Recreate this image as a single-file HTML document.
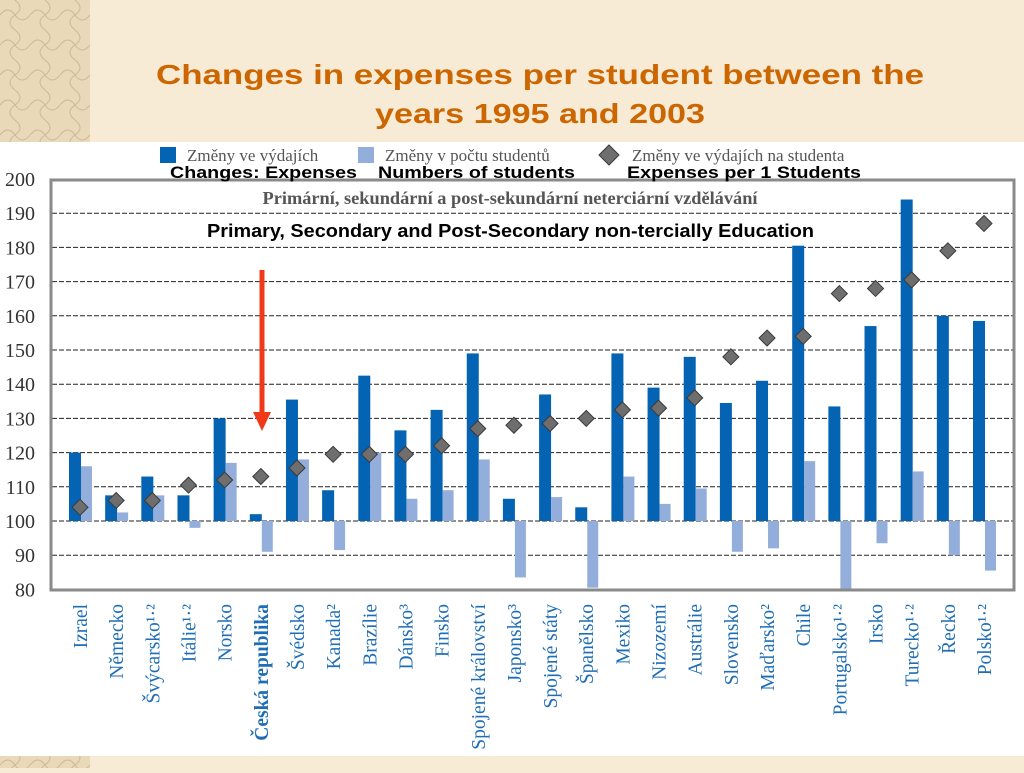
<!DOCTYPE html>
<html><head><meta charset="utf-8"><style>
body{margin:0;width:1024px;height:768px;overflow:hidden;background:#F8EBD5;font-family:"Liberation Sans",sans-serif}
</style></head><body>
<svg width="1024" height="768">
<defs><pattern id="tex" width="30" height="30" patternUnits="userSpaceOnUse"><rect width="30" height="30" fill="#E9D9B8"/><path d="M0 15 Q8 5 15 15 T30 15 M15 0 Q25 8 15 15 T15 30" stroke="#C9B89A" fill="none"/></pattern></defs>
<rect x="0" y="0" width="90" height="142" fill="url(#tex)"/>
<rect x="0" y="756" width="90" height="12" fill="url(#tex)"/>
<text x="540" y="84" text-anchor="middle" font-size="28" font-weight="bold" fill="#CC6600" textLength="768" lengthAdjust="spacingAndGlyphs">Changes in expenses per student  between  the</text>
<text x="540" y="123" text-anchor="middle" font-size="28" font-weight="bold" fill="#CC6600" textLength="330" lengthAdjust="spacingAndGlyphs">years 1995 and 2003</text>
<rect x="0" y="142" width="1024" height="614" fill="#fff"/>
<g id="chart"></g>
</svg>
<script>
const categories=["Izrael","Německo","Švýcarsko¹·²","Itálie¹·²","Norsko","Česká republika","Švédsko","Kanada²","Brazílie","Dánsko³","Finsko","Spojené království","Japonsko³","Spojené státy","Španělsko","Mexiko","Nizozemí","Austrálie","Slovensko","Maďarsko²","Chile","Portugalsko¹·²","Irsko","Turecko¹·²","Řecko","Polsko¹·²"];
const expenses=[120,107.5,113,107.5,130,102,135.5,109,142.5,126.5,132.5,149,106.5,137,104,149,139,148,134.5,141,180.5,133.5,157,194,160,158.5];
const students=[116,102.5,107.5,98,117,91,118,91.5,120,106.5,109,118,83.5,107,80.5,113,105,109.5,91,92,117.5,80,93.5,114.5,90,85.5];
const perStudent=[104,106,106,110.5,112,113,115.5,119.5,119.5,119.5,122,127,128,128.5,130,132.5,133,136,148,153.5,154,166.5,168,170.5,179,187];
const yTicks=[80,90,100,110,120,130,140,150,160,170,180,190,200];
const NS="http://www.w3.org/2000/svg";
const g=document.getElementById('chart');
function y(v){return 521-(v-100)*3.42;}
function x(i){return 80+i*36.16;}
function mk(t,a,txt){const e=document.createElementNS(NS,t);for(const k in a)e.setAttribute(k,a[k]);if(txt!==undefined)e.textContent=txt;g.appendChild(e);return e;}
let e;
yTicks.forEach(t=>{
 e=mk('text',{x:35,y:y(t)+7,'text-anchor':'end','font-family':'Liberation Serif,serif','font-size':20,fill:'#333'},t);
 
 
 if(t>80&&t<200){e=mk('line',{x1:52,x2:1013,y1:y(t),y2:y(t),stroke:'#222','stroke-width':1,'stroke-dasharray':'5,2'});
 
 }
});
categories.forEach((c,i)=>{
 const cx=x(i);
 e=mk('rect',{x:cx-11,y:Math.min(y(expenses[i]),y(100)),width:12,height:Math.abs(y(expenses[i])-y(100)),fill:'#0563B4'});
 
 
 e=mk('rect',{x:cx+1,y:Math.min(y(students[i]),y(100)),width:11,height:Math.abs(y(students[i])-y(100)),fill:'#94AEDB'});
 
 
});
categories.forEach((c,i)=>{
 const cx=x(i),cy=y(perStudent[i]);
 e=mk('path',{d:`M${cx} ${cy-8}L${cx+8} ${cy}L${cx} ${cy+8}L${cx-8} ${cy}Z`,fill:'#6E6E6E',stroke:'#3A3A3A','stroke-width':1});
 
 
 e=mk('text',{transform:`translate(${cx+7},604) rotate(-90)`,'text-anchor':'end','font-family':'Liberation Serif,serif','font-size':19.5,fill:'#1F6EB5','font-weight':i==5?'bold':'normal'},c);
 
 
});
e=mk('rect',{x:51,y:180,width:963,height:410,fill:'none',stroke:'#8A8A8A','stroke-width':3});


e=mk('text',{x:510,y:204,'text-anchor':'middle','font-family':'Liberation Serif,serif','font-size':18,'font-weight':'bold',fill:'#555',textLength:495,lengthAdjust:'spacingAndGlyphs'},'Primární, sekundární a post-sekundární neterciární vzdělávání');


e=mk('text',{x:207,y:237,'font-size':18,'font-weight':'bold',fill:'#000',textLength:607,lengthAdjust:'spacingAndGlyphs'},'Primary, Secondary and Post-Secondary non-tercially Education');


e=mk('rect',{x:160,y:147,width:16,height:16,fill:'#0563B4'});


e=mk('text',{x:187,y:161,'font-family':'Liberation Serif,serif','font-size':17,fill:'#555'},'Změny ve výdajích');


e=mk('rect',{x:358,y:147,width:16,height:16,fill:'#94AEDB'});


e=mk('text',{x:385,y:161,'font-family':'Liberation Serif,serif','font-size':17,fill:'#555'},'Změny v počtu studentů');


e=mk('path',{d:'M609 145L619 155L609 165L599 155Z',fill:'#6E6E6E',stroke:'#3A3A3A'});


e=mk('text',{x:632,y:161,'font-family':'Liberation Serif,serif','font-size':17,fill:'#555'},'Změny ve výdajích na studenta');


[['Changes: Expenses',170,187],['Numbers of students',378,197],['Expenses per 1 Students',627,234]].forEach((p,i)=>{
 e=mk('text',{x:p[1],y:178,'font-size':17,'font-weight':'bold',fill:'#000',textLength:p[2],lengthAdjust:'spacingAndGlyphs'},p[0]);
 
 
});
e=mk('line',{x1:262,x2:262,y1:270,y2:415,stroke:'#F03A17','stroke-width':5});


e=mk('path',{d:'M253 412L271 412L262 431Z',fill:'#F03A17'});


</script>
</body></html>
